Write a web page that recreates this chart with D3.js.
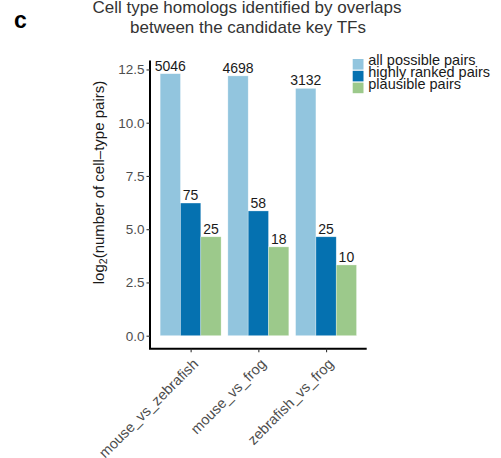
<!DOCTYPE html>
<html>
<head>
<meta charset="utf-8">
<script src="https://cdn.jsdelivr.net/npm/d3@7"></script>
<style>
  html, body { margin: 0; padding: 0; background: #fff; }
  text { font-family: "Liberation Sans", Arial, Helvetica, sans-serif; }
</style>
</head>
<body>
<svg id="chart" width="501" height="458"></svg>
<script>
// Comparisons (x groups)
const comparisons = ["mouse_vs_zebrafish", "mouse_vs_frog", "zebrafish_vs_frog"];
// Pair categories (fill groups)
const pairTypes = ["all possible pairs", "highly ranked pairs", "plausible pairs"];
// Raw counts per comparison, one array per pair category
const allPossible = [5046, 4698, 3132];
const highlyRanked = [75, 58, 25];
const plausible = [25, 18, 10];
const yTicks = [0, 2.5, 5, 7.5, 10, 12.5];
const colors = ["#92c5de", "#0571b0", "#9cc98b"];

const counts = [allPossible, highlyRanked, plausible];
const rows = [];
comparisons.forEach((c, i) => {
  pairTypes.forEach((p, j) => {
    rows.push({ comp: c, type: p, count: counts[j][i], value: Math.log2(counts[j][i]) });
  });
});

const svg = d3.select("#chart");
const panel = { left: 150, right: 366.7, top: 60.6, bottom: 348.8 };

const maxV = d3.max(rows, d => d.value);
const y = d3.scaleLinear()
  .domain([-0.05 * maxV, maxV * 1.05])
  .range([panel.bottom, panel.top]);

// discrete axis expansion: 0.6 units on each side, bars fill 0.9 of a unit
const unit = (panel.right - panel.left) / 3.2;
const x = d3.scalePoint().domain(comparisons)
  .range([panel.left + unit * 0.6, panel.left + unit * 2.6]);
const groupW = unit * 0.9;
const x1 = d3.scaleBand().domain(pairTypes).range([0, groupW]);
const color = d3.scaleOrdinal().domain(pairTypes).range(colors);

// Title
const title = svg.append("g").attr("fill", "#333");
title.append("text").attr("x", 247).attr("y", 12.7).attr("text-anchor", "middle")
  .attr("font-size", 17).text("Cell type homologs identified by overlaps");
title.append("text").attr("x", 248).attr("y", 33.3).attr("text-anchor", "middle")
  .attr("font-size", 17).text("between the candidate key TFs");

// Panel letter
svg.append("text").attr("x", 14).attr("y", 28.3).attr("font-size", 23)
  .attr("font-weight", "bold").attr("fill", "#000").text("c");

const barX = d => x(d.comp) - groupW / 2 + x1(d.type);

// Bars
svg.append("g").selectAll("rect").data(rows).join("rect")
  .attr("x", barX)
  .attr("width", x1.bandwidth())
  .attr("y", d => y(d.value))
  .attr("height", d => y(0) - y(d.value))
  .attr("fill", d => color(d.type))
  .attr("stroke", "#ffffff")
  .attr("stroke-opacity", 0.5)
  .attr("stroke-width", 0.6);

// Value labels
svg.append("g").selectAll("text").data(rows).join("text")
  .attr("x", d => barX(d) + x1.bandwidth() / 2)
  .attr("y", d => y(d.value) - 3)
  .attr("text-anchor", "middle")
  .attr("font-size", 14)
  .attr("fill", "#1a1a1a")
  .text(d => d.count);

// Y axis
const yAxis = svg.append("g").attr("transform", `translate(${panel.left},0)`)
  .call(d3.axisLeft(y).tickValues(yTicks).tickFormat(d3.format(".1f")).tickSize(3.5).tickPadding(2));
yAxis.select(".domain").attr("stroke", "#000").attr("stroke-width", 2)
  .attr("d", `M0,${panel.top}V${panel.bottom}`);
yAxis.selectAll(".tick line").attr("stroke", "#333").attr("stroke-width", 1.1);
yAxis.selectAll(".tick text").attr("font-size", 13.5).attr("fill", "#4d4d4d")
  .attr("font-family", "Liberation Sans, Arial, sans-serif");

// X axis
const xAxis = svg.append("g").attr("transform", `translate(0,${panel.bottom})`)
  .call(d3.axisBottom(x).tickSize(3.5).tickSizeOuter(0));
xAxis.select(".domain").attr("stroke", "#000").attr("stroke-width", 2)
  .attr("d", `M${panel.left - 1},0H${panel.right}`);
xAxis.selectAll(".tick line").attr("stroke", "#333").attr("stroke-width", 1.1);
xAxis.selectAll(".tick text")
  .attr("font-size", 14.5).attr("fill", "#4d4d4d")
  .attr("font-family", "Liberation Sans, Arial, sans-serif")
  .attr("text-anchor", "end")
  .attr("dy", null)
  .attr("y", 0).attr("x", 0)
  .attr("transform", "translate(8,16) rotate(-45)");

// Y axis title
const yTitle = svg.append("text")
  .attr("transform", "translate(104,182.5) rotate(-90)")
  .attr("text-anchor", "middle")
  .attr("font-size", 15)
  .attr("fill", "#1a1a1a");
yTitle.append("tspan").text("log");
yTitle.append("tspan").attr("font-size", 10.5).attr("dy", 3).text("2");
yTitle.append("tspan").attr("dy", -3).text("(number of cell\u2013type pairs)");

// Legend
const legend = svg.append("g").attr("transform", "translate(352.7,59)");
pairTypes.forEach((p, i) => {
  const g = legend.append("g").attr("transform", `translate(0,${i * 11.8})`);
  g.append("rect").attr("width", 10.8).attr("height", 10.6).attr("fill", color(p));
  g.append("text").attr("x", 15.6).attr("y", 6.2)
    .attr("font-size", 14.5).attr("fill", "#1a1a1a").text(p);
});
</script>
</body>
</html>
